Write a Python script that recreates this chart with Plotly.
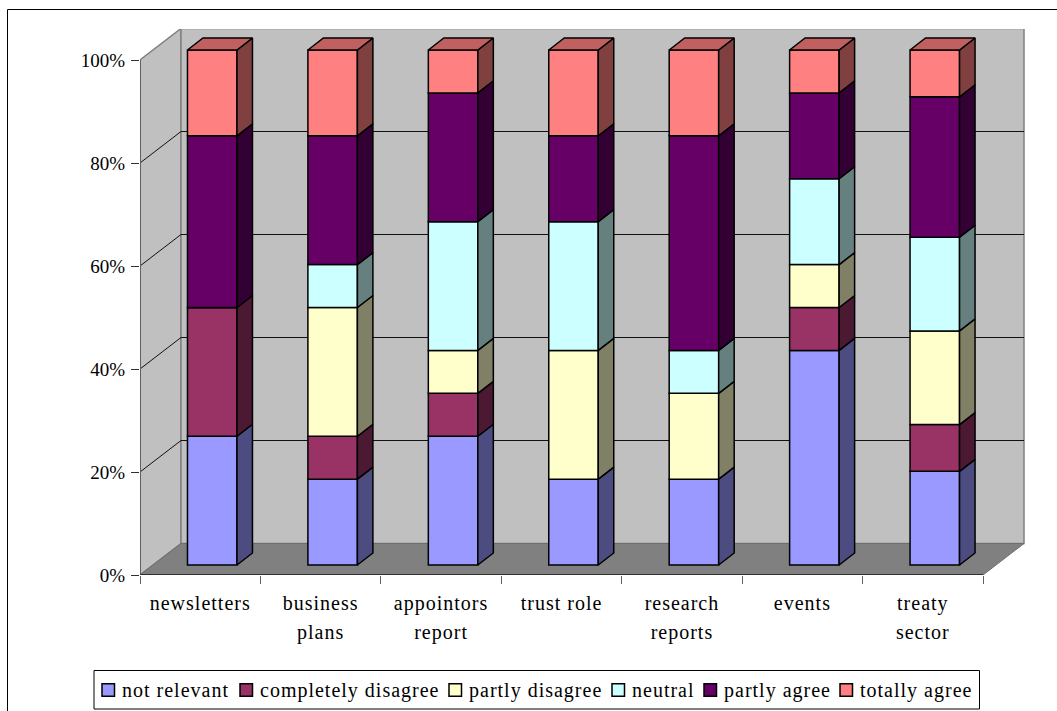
import plotly.graph_objects as go

# Survey answers per topic (number of respondents)
categories_line1 = ["newsletters", "business", "appointors", "trust role", "research", "events", "treaty"]
categories_line2 = ["", "plans", "report", "", "reports", "", "sector"]
not_relevant = [3, 2, 3, 2, 2, 5, 2]
completely_disagree = [3, 1, 1, 0, 0, 1, 1]
partly_disagree = [0, 3, 1, 3, 2, 1, 2]
neutral = [0, 1, 3, 3, 1, 2, 2]
partly_agree = [4, 3, 3, 2, 5, 2, 3]
totally_agree = [2, 2, 1, 2, 2, 1, 1]

series_names = ["not relevant", "completely disagree", "partly disagree",
                "neutral", "partly agree", "totally agree"]
series_values = [not_relevant, completely_disagree, partly_disagree,
                 neutral, partly_agree, totally_agree]
front_colors = ["#9999FF", "#993366", "#FFFFCC", "#CCFFFF", "#660066", "#FF8080"]
side_colors = ["#4C4C80", "#4C1933", "#808066", "#668080", "#330033", "#804040"]
top_color = "#C06060"
tick_percent = [0, 0.2, 0.4, 0.6, 0.8, 1.0]

FONT = "Liberation Serif"
WIDTH, HEIGHT = 1057, 711
LEFT, RIGHT, TOP, BOTTOM = 140, 1024, 29, 575   # plot area in pixels
X_UNIT = 120.43   # pixels per category
Y_UNIT = 515.0    # pixels per 100%

# Oblique projection: how far the back wall and the bars sit behind the axes
WALL_DX, WALL_DY = 41 / X_UNIT, 31.5 / Y_UNIT
BAR_DX, BAR_DY = 12 / X_UNIT, 10 / Y_UNIT
SIDE_DX, SIDE_DY = 15.5 / X_UNIT, 12 / Y_UNIT
BAR_WIDTH = 49.5 / X_UNIT
n_cat = len(categories_line1)
x_max = (RIGHT + 1 - LEFT) / X_UNIT
y_max = (BOTTOM - TOP) / Y_UNIT


def spaced(text):
    """Label text with the slightly open tracking used across the chart."""
    return f'<span style="letter-spacing:1px">{text}</span>' if text else ""


fig = go.Figure()

totals = [sum(s[i] for s in series_values) for i in range(n_cat)]
running = [0.0] * n_cat
stacks = []
for values in series_values:
    shares = [v / t for v, t in zip(values, totals)]
    stacks.append((list(running), shares))
    running = [r + s for r, s in zip(running, shares)]

centers = [i + 0.5 + BAR_DX for i in range(n_cat)]

# Right-hand faces of the boxes
for (bases, shares), name, side in zip(stacks, series_names, side_colors):
    xs, ys = [], []
    for c, b, s in zip(centers, bases, shares):
        if s == 0:
            continue
        r = c + BAR_WIDTH / 2
        b0 = b + BAR_DY
        xs += [r, r + SIDE_DX, r + SIDE_DX, r, r, None]
        ys += [b0, b0 + SIDE_DY, b0 + s + SIDE_DY, b0 + s, b0, None]
    fig.add_trace(go.Scatter(x=xs, y=ys, mode="lines", fill="toself", fillcolor=side,
                             line=dict(color="black", width=1.5), showlegend=False,
                             hoverinfo="skip", name=name + " side"))

# Top faces of the stacks
xs, ys = [], []
for c in centers:
    l, r = c - BAR_WIDTH / 2, c + BAR_WIDTH / 2
    t = 1 + BAR_DY
    xs += [l, l + SIDE_DX, r + SIDE_DX, r, l, None]
    ys += [t, t + SIDE_DY, t + SIDE_DY, t, t, None]
fig.add_trace(go.Scatter(x=xs, y=ys, mode="lines", fill="toself", fillcolor=top_color,
                         line=dict(color="black", width=1.5), showlegend=False, hoverinfo="skip"))

# Front faces
for (bases, shares), name, color in zip(stacks, series_names, front_colors):
    fig.add_trace(go.Bar(x=centers, y=shares, base=[b + BAR_DY for b in bases], name=name,
                         width=BAR_WIDTH, showlegend=False,
                         marker=dict(color=color, line=dict(color="black", width=1.5))))

# Holds the second line of the category labels
fig.add_trace(go.Scatter(x=[0], y=[0], mode="none", xaxis="x2", showlegend=False, hoverinfo="skip"))

px = lambda v: (v - LEFT) / (RIGHT - LEFT + 1)
py = lambda v: (BOTTOM - v) / (BOTTOM - TOP)

GRAY = "#808080"
shapes = [
    # side wall, back wall, floor
    dict(type="path", layer="below", xref="x", yref="y", fillcolor="#C0C0C0", line=dict(color=GRAY, width=1.5),
         path=f"M0,0 L{WALL_DX},{WALL_DY} L{WALL_DX},{1 + WALL_DY} L0,1 Z"),
    dict(type="rect", layer="below", xref="x", yref="y", fillcolor="#C0C0C0", line=dict(color=GRAY, width=1.5),
         x0=WALL_DX, x1=n_cat + WALL_DX, y0=WALL_DY, y1=1 + WALL_DY),
    dict(type="path", layer="below", xref="x", yref="y", fillcolor=GRAY, line=dict(color="#6E6E6E", width=1),
         path=f"M0,0 L{WALL_DX},{WALL_DY} L{n_cat + WALL_DX},{WALL_DY} L{n_cat},0 Z"),
]
# Gridlines run across the side wall and along the back wall
for p in tick_percent[1:-1]:
    shapes.append(dict(type="path", layer="below", xref="x", yref="y", line=dict(color="#111111", width=1),
                       path=f"M0,{p} L{WALL_DX},{p + WALL_DY} L{n_cat + WALL_DX},{p + WALL_DY}"))
# Axis lines in front of the floor
shapes.append(dict(type="line", layer="above", xref="x", yref="y", x0=0, x1=0, y0=0, y1=1,
                   line=dict(color="#606060", width=2)))
shapes.append(dict(type="line", layer="above", xref="x", yref="y", x0=0, x1=n_cat, y0=0, y1=0,
                   line=dict(color="#303030", width=2)))
# Outer chart frame, open towards the window edges
shapes.append(dict(type="line", xref="paper", yref="paper", x0=px(7.5), x1=px(WIDTH), y0=py(9.5), y1=py(9.5),
                   line=dict(color="black", width=1)))
shapes.append(dict(type="line", xref="paper", yref="paper", x0=px(7.5), x1=px(7.5), y0=py(9.5), y1=py(HEIGHT),
                   line=dict(color="black", width=1)))

# Key below the chart: compact row of small swatches with their series names
LEGEND_LEFT, LEGEND_RIGHT, LEGEND_TOP, LEGEND_BOTTOM = 94, 979.5, 670.5, 709
SWATCH_LEFT = [102, 240, 449, 612, 704, 840]
SWATCH_SIZE = 12.5
SWATCH_MID = 690
LABEL_GAP = 7
shapes.append(dict(type="rect", xref="paper", yref="paper", fillcolor="white", line=dict(color="black", width=1),
                   x0=px(LEGEND_LEFT), x1=px(LEGEND_RIGHT), y0=py(LEGEND_BOTTOM), y1=py(LEGEND_TOP)))
annotations = []
for left, name, color in zip(SWATCH_LEFT, series_names, front_colors):
    shapes.append(dict(type="rect", xref="paper", yref="paper", fillcolor=color,
                       line=dict(color="black", width=1.5),
                       x0=px(left), x1=px(left + SWATCH_SIZE),
                       y0=py(SWATCH_MID + SWATCH_SIZE / 2), y1=py(SWATCH_MID - SWATCH_SIZE / 2)))
    annotations.append(dict(xref="paper", yref="paper", x=px(left + SWATCH_SIZE + LABEL_GAP), y=py(SWATCH_MID),
                            xanchor="left", yanchor="middle", showarrow=False, align="left",
                            borderpad=0, borderwidth=0, text=spaced(name),
                            font=dict(family=FONT, size=20, color="black")))

percent_font = dict(family=FONT, size=19, color="black")
label_font = dict(family=FONT, size=20, color="black")
fig.update_layout(
    width=WIDTH, height=HEIGHT, autosize=False,
    margin=dict(l=LEFT, r=WIDTH - RIGHT - 1, t=TOP, b=HEIGHT - BOTTOM, pad=0, autoexpand=False),
    paper_bgcolor="white", plot_bgcolor="white", barmode="overlay",
    shapes=shapes, annotations=annotations, font=percent_font, showlegend=False,
    xaxis=dict(range=[0, x_max], tickmode="array",
               tickvals=[i + 0.5 for i in range(n_cat)], ticktext=[spaced(t) for t in categories_line1],
               ticks="", ticklen=0, ticklabelstandoff=14, tickfont=label_font, tickangle=0,
               showgrid=False, zeroline=False, showline=False, fixedrange=True,
               minor=dict(tickmode="array", tickvals=list(range(n_cat + 1)), ticks="outside",
                          ticklen=8, tickwidth=1, tickcolor="#606060", showgrid=False)),
    xaxis2=dict(range=[0, x_max], overlaying="x", anchor="y", side="bottom", tickmode="array",
                tickvals=[i + 0.5 for i in range(n_cat)], ticktext=[spaced(t) for t in categories_line2],
                ticks="", ticklen=0, ticklabelstandoff=43, tickfont=label_font, tickangle=0,
                showgrid=False, zeroline=False, showline=False, fixedrange=True),
    yaxis=dict(range=[0, y_max], tickmode="array", tickvals=tick_percent, tickformat=".0%",
               ticks="outside", ticklen=8, tickwidth=1, tickcolor="#303030", tickfont=percent_font,
               ticklabelstandoff=2, showgrid=False, zeroline=False, showline=False, fixedrange=True),
    hovermode=False,
)

fig.write_html("out.html")
